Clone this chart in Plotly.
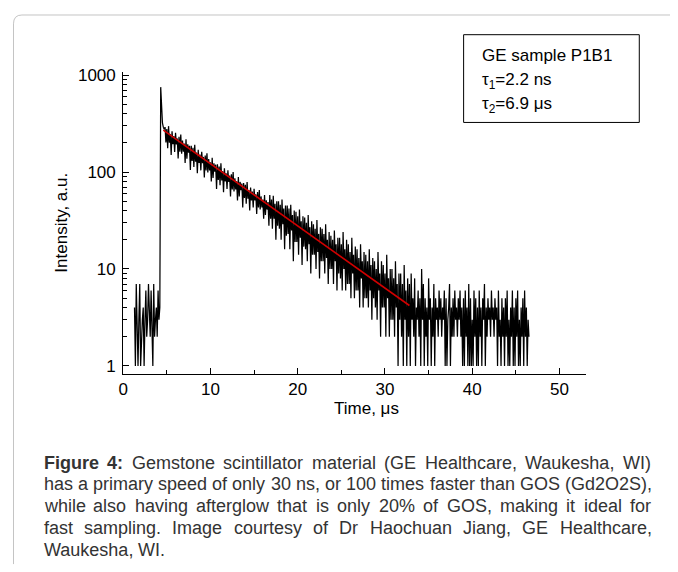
import numpy as np
import plotly.graph_objects as go

# window is 678x572; the page body keeps an 8px margin, so the figure is 670x564
PAGE_W, PAGE_H = 678, 572
OFF = 8
W, H = PAGE_W - OFF, PAGE_H - OFF

# ---------------- data ----------------
t_start = 1.3          # first sample time, µs
t_step = 0.1           # sample spacing, µs

background_counts = [4, 1, 7, 2, 1, 3, 7, 1, 2, 3, 4, 1, 3, 6, 2, 3, 7, 3, 2, 6,
                     3, 1, 7, 2, 3, 4, 2, 6, 3, 4]
pulse_counts = [750, 430, 320, 290, 275]
decay_counts = [
    290, 202, 277, 176, 297, 200, 247, 150, 263, 193,
    235, 161, 253, 192, 222, 138, 231, 162, 244, 154,
    211, 162, 196, 124, 218, 137, 193, 158, 186, 105,
    186, 130, 178, 113, 191, 128, 159, 97, 169, 124,
    151, 104, 162, 123, 143, 88, 148, 104, 156, 99,
    136, 104, 126, 80, 140, 87, 123, 101, 119, 67,
    120, 83, 114, 73, 123, 82, 102, 62, 109, 80,
    97, 67, 104, 79, 92, 56, 95, 66, 100, 63,
    86, 66, 80, 51, 89, 56, 79, 65, 76, 43,
    77, 54, 74, 47, 79, 53, 65, 40, 69, 51,
    63, 43, 67, 51, 59, 37, 62, 43, 65, 41,
    56, 43, 52, 33, 58, 36, 51, 41, 49, 28,
    58, 33, 52, 26, 57, 33, 47, 20, 50, 28,
    50, 26, 46, 20, 52, 29, 42, 16, 45, 22,
    45, 23, 42, 16, 46, 25, 36, 12, 40, 19,
    39, 19, 35, 14, 41, 21, 31, 11, 35, 17,
    34, 16, 30, 12, 36, 18, 27, 9, 31, 14,
    29, 14, 26, 10, 32, 15, 23, 8, 27, 12,
    26, 12, 23, 9, 29, 13, 20, 7, 24, 10,
    22, 10, 20, 7, 25, 12, 18, 6, 21, 9,
    21, 8, 18, 6, 24, 10, 16, 6, 20, 7,
    18, 7, 15, 5, 21, 9, 14, 5, 17, 6,
    16, 6, 13, 4, 18, 8, 12, 4, 15, 5,
    14, 5, 12, 4, 16, 6, 11, 3, 13, 5,
    12, 4, 10, 3, 15, 6, 9, 2, 12, 4,
    11, 4, 9, 2, 14, 5, 8, 2, 10, 3,
    10, 3, 8, 2, 12, 4, 7, 1, 9, 3,
    9, 2, 7, 1, 11, 3, 6, 1, 8, 2,
]
tail_counts = [
    7, 1, 9, 3, 5, 2, 8, 1, 4, 3,
    6, 2, 5, 1, 10, 3, 7, 1, 5, 2,
    4, 1, 8, 3, 5, 1, 4, 2, 7, 1,
    5, 3, 4, 2, 6, 3, 5, 2, 4, 3,
    6, 1, 5, 1, 3, 4, 7, 1, 4, 2,
    5, 2, 6, 3, 4, 2, 5, 3, 6, 2,
    4, 1, 5, 1, 6, 2, 4, 1, 7, 1,
    5, 1, 3, 1, 6, 2, 5, 1, 4, 1,
    6, 2, 4, 1, 5, 3, 7, 1, 4, 2,
    5, 3, 4, 2, 6, 3, 4, 2, 5, 3,
    4, 1, 6, 2, 3, 1, 5, 2, 4, 1,
    5, 2, 6, 1, 3, 1, 4, 2, 6, 1,
    4, 1, 5, 2, 6, 1, 3, 1, 4, 2,
    5, 1, 6, 2, 4, 1, 3, 2,
]

fit_time = [4.6, 32.8]
fit_intensity = [270, 4.2]

x_tick_values = [0, 10, 20, 30, 40, 50]
x_minor_values = [5, 15, 25, 35, 45]
y_tick_values = [1, 10, 100, 1000]
y_tick_labels = ["1", "10", "100", "1000"]

legend_lines = ["GE sample P1B1", "τ<sub>1</sub>=2.2 ns", "τ<sub>2</sub>=6.9 μs"]
caption_lines = [
    "Figure 4: Gemstone scintillator material (GE Healthcare, Waukesha, WI)",
    "has a primary speed of only 30 ns, or 100 times faster than GOS (Gd2O2S),",
    "while also having afterglow that is only 20% of GOS, making it ideal for",
    "fast sampling. Image courtesy of Dr Haochuan Jiang, GE Healthcare,",
    "Waukesha, WI.",
]
caption_bold_words = 2

# ---------------- build ----------------
intensity = background_counts + pulse_counts + decay_counts + tail_counts
time = t_start + t_step * np.arange(len(intensity))


def px(x):
    """screen x (page pixels) -> paper fraction"""
    return (x - OFF) / W


def py(y):
    """screen y (page pixels) -> paper fraction"""
    return 1 - (y - OFF) / H


FONT = "Liberation Sans, Arial, sans-serif"

fig = go.Figure()
fig.add_trace(go.Scatter(x=time, y=intensity, mode="lines",
                         line=dict(color="black", width=1.25), showlegend=False))
fig.add_trace(go.Scatter(x=fit_time, y=fit_intensity, mode="lines",
                         line=dict(color="#d10000", width=1.6), showlegend=False))

x0, x1 = 119, 585
y_top, y_bot = 67, 373

fig.update_layout(
    width=W, height=H,
    margin=dict(l=0, r=0, t=0, b=0),
    paper_bgcolor="white", plot_bgcolor="white",
    font=dict(family=FONT, color="black", size=17),
    showlegend=False,
    xaxis=dict(
        domain=[px(x0), px(x1)], range=[0, 53],
        showline=True, linecolor="black", linewidth=1,
        showgrid=False, zeroline=False, mirror=False,
        ticks="inside", ticklen=6, tickcolor="black",
        tickmode="array", tickvals=x_tick_values,
        tickfont=dict(size=17, family=FONT),
        minor=dict(ticks="inside", ticklen=4, tickcolor="black",
                   tickmode="array", tickvals=x_minor_values, showgrid=False),
    ),
    yaxis=dict(
        type="log",
        domain=[py(y_bot), py(y_top)],
        range=[np.log10(0.83), np.log10(1070)],
        showline=True, linecolor="black", linewidth=1,
        showgrid=False, zeroline=False, mirror=False,
        ticks="inside", ticklen=6, tickcolor="black",
        tickmode="array", tickvals=y_tick_values, ticktext=y_tick_labels,
        tickfont=dict(size=17, family=FONT),
        ticklabelstandoff=3,
        minor=dict(ticks="inside", ticklen=4, tickcolor="black",
                   tickmode="array",
                   tickvals=[k * 10 ** d for d in range(0, 3) for k in range(2, 10)],
                   showgrid=False),
    ),
)

shapes = []
# container border (top + left, rounded corner)
shapes.append(dict(type="path", xref="paper", yref="paper",
                   path=(f"M {px(679)},{py(9)} L {px(17)},{py(9)} "
                         f"Q {px(8.5)},{py(9)} {px(8.5)},{py(18)} L {px(8.5)},{py(566)}"),
                   line=dict(color="#c4c4c4", width=1)))
# legend box
shapes.append(dict(type="rect", xref="paper", yref="paper",
                   x0=px(462), x1=px(639), y0=py(118), y1=py(29),
                   line=dict(color="black", width=1), fillcolor="rgba(0,0,0,0)"))
fig.update_layout(shapes=shapes)

ann = []
for txt, yc in zip(legend_lines, [50, 76, 100]):
    ann.append(dict(xref="paper", yref="paper", x=px(480), y=py(yc),
                    xanchor="left", yanchor="middle", text=txt, showarrow=False,
                    borderpad=0, font=dict(size=17, family=FONT, color="black")))

ann.append(dict(xref="paper", yref="paper", x=px(364), y=py(408),
                xanchor="center", yanchor="middle", text="Time, μs", showarrow=False,
                borderpad=0, font=dict(size=17, family=FONT, color="black")))
ann.append(dict(xref="paper", yref="paper", x=px(57), y=py(220),
                xanchor="center", yanchor="middle", text="Intensity, a.u.",
                textangle=-90, showarrow=False, borderpad=0,
                font=dict(size=17, family=FONT, color="black")))

# ---- caption, justified like the source page ----
REG = {' ': 278, '!': 278, '(': 333, ')': 333, ',': 278, '-': 333, '.': 278,
       '%': 889, ':': 278}
for ch in "0123456789":
    REG[ch] = 556
REG.update(dict(A=667, B=667, C=722, D=722, E=667, F=611, G=778, H=722, I=278,
                J=500, K=667, L=556, M=833, N=722, O=778, P=667, Q=778, R=722,
                S=667, T=611, U=722, V=667, W=944, X=667, Y=667, Z=611,
                a=556, b=556, c=500, d=556, e=556, f=278, g=556, h=556, i=222,
                j=222, k=500, l=222, m=833, n=556, o=556, p=556, q=556, r=333,
                s=500, t=278, u=556, v=500, w=722, x=500, y=500, z=500))
BOLD = dict(REG)
BOLD.update({'F': 611, 'i': 278, 'g': 611, 'u': 611, 'r': 389, 'e': 556,
             '4': 556, ':': 333})


def width(word, size, bold=False):
    tbl = BOLD if bold else REG
    return sum(tbl.get(c, 556) for c in word) * size / 1000.0


cap_size = 18
cap_left, cap_right = 38, 650
cap_y = [463, 485, 507, 529, 552]
cap_color = "#333333"
for li, (line, yc) in enumerate(zip(caption_lines, cap_y)):
    words = line.split(" ")
    bolds = [li == 0 and wi < caption_bold_words for wi in range(len(words))]
    widths = [width(w_, cap_size, b) for w_, b in zip(words, bolds)]
    if li == len(caption_lines) - 1:
        gap = width(" ", cap_size)
    else:
        gap = (cap_right - cap_left - sum(widths)) / (len(words) - 1)
    xpos = cap_left
    for w_, b, wd in zip(words, bolds, widths):
        ann.append(dict(xref="paper", yref="paper", x=px(xpos), y=py(yc),
                        xanchor="left", yanchor="middle",
                        text=f"<b>{w_}</b>" if b else w_, showarrow=False,
                        borderpad=0,
                        font=dict(size=cap_size, family=FONT, color=cap_color)))
        xpos += wd + gap

fig.update_layout(annotations=ann)

fig.write_html("out.html")
